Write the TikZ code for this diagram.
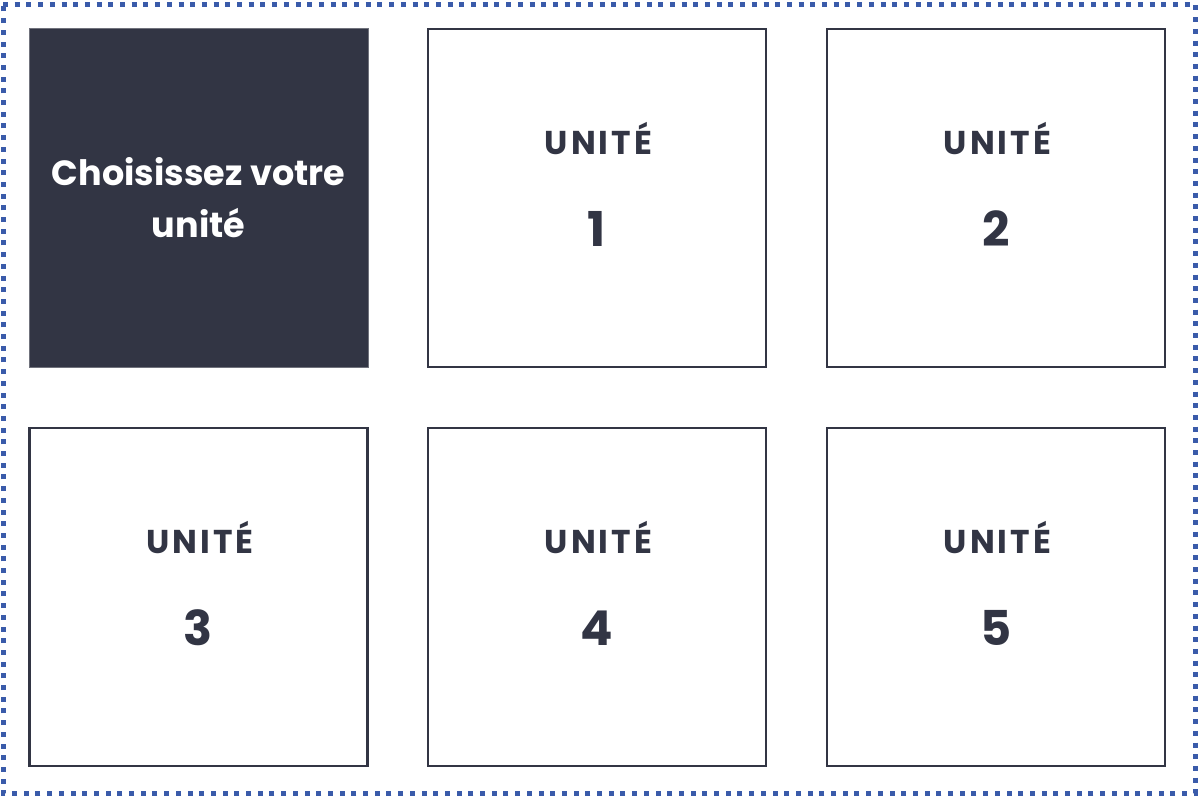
\documentclass[tikz,border=0pt]{standalone}
\usepackage{fontspec}
\setmainfont{Poppins}
\definecolor{ink}{HTML}{323544}
\definecolor{frameblue}{HTML}{3A5BAA}
\begin{document}
\begin{tikzpicture}[x=1pt,y=-1pt,
  unitbox/.style={draw=ink, line width=2.5pt, fill=white, minimum width=338pt, minimum height=338pt, inner sep=0pt},
  darkbox/.style={draw=ink!70, line width=1pt, fill=ink, minimum width=339pt, minimum height=339pt, inner sep=0pt},
  lbl/.style={text=ink, anchor=base, inner sep=0pt, font=\fontsize{33}{36}\selectfont\addfontfeatures{LetterSpace=9}\bfseries},
  num/.style={text=ink, anchor=base, inner sep=0pt, font=\fontsize{48}{52}\selectfont\bfseries},
  choose/.style={text=white, anchor=base, inner sep=0pt, font=\fontsize{35}{40}\selectfont\bfseries}]
\useasboundingbox (0,0) rectangle (1200,796);
\fill[white] (0,0) rectangle (1200,796);
\draw[frameblue, line width=5pt, dash pattern=on 5pt off 6.7pt] (3,4) -- (1195,4) -- (1195,793) -- (3,793) -- cycle;
\node[darkbox] (b0) at (198.5,198) {};
\node[choose] (t0a) at (198.5,185) {Choisissez votre};
\node[choose] (t0b) at (198.5,237) {unité};
\foreach \n/\x/\y in {1/597/198, 2/996/198, 3/198.5/597, 4/597/597, 5/996/597} {
  \node[unitbox] (b\n) at (\x,\y) {};
  \node[lbl] (u\n) at (\x+1.5,\y-43.5) {UNITÉ};
  \node[num] (n\n) at (\x,\y+48) {\n};
}
\end{tikzpicture}
\end{document}
